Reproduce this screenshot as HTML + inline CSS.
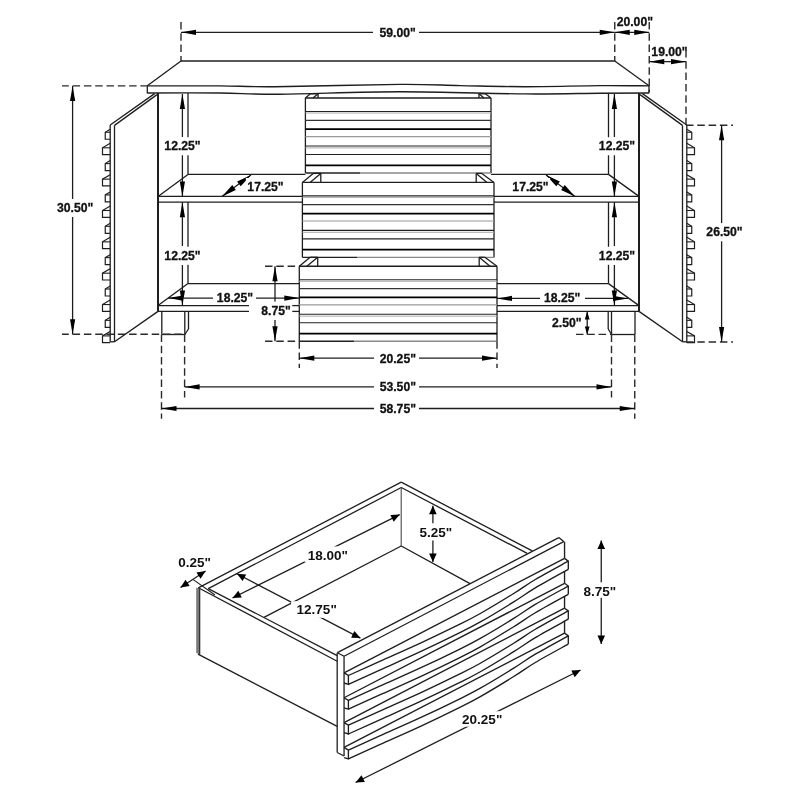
<!DOCTYPE html>
<html><head><meta charset="utf-8"><style>
html,body{margin:0;padding:0;background:#fff;}
svg{display:block;}
text{font-family:"Liberation Sans",sans-serif;font-weight:bold;fill:#111;stroke:#111;stroke-width:0.3;}
svg{will-change:transform;}
text.d{stroke-width:0;}
</style></head><body>
<svg width="800" height="800" viewBox="0 0 800 800">
<rect width="800" height="800" fill="#fff"/>
<line x1="181.00" y1="22.00" x2="181.00" y2="61.00" stroke="#2a2a2a" stroke-width="1.4" stroke-dasharray="7.5 3.8" stroke-dashoffset="0"/>
<line x1="181.00" y1="32.30" x2="373.00" y2="32.30" stroke="#1e1e1e" stroke-width="1.3"/>
<line x1="419.00" y1="32.30" x2="614.75" y2="32.30" stroke="#1e1e1e" stroke-width="1.3"/>
<polygon points="181.00,32.30 196.00,29.70 196.00,34.90" fill="#000"/>
<polygon points="614.75,32.30 599.75,34.90 599.75,29.70" fill="#000"/>
<line x1="614.75" y1="22.00" x2="614.75" y2="61.00" stroke="#2a2a2a" stroke-width="1.4" stroke-dasharray="7.5 3.8" stroke-dashoffset="0"/>
<line x1="649.25" y1="22.00" x2="649.25" y2="92.00" stroke="#2a2a2a" stroke-width="1.4" stroke-dasharray="7.5 3.8" stroke-dashoffset="0"/>
<line x1="614.75" y1="32.30" x2="649.25" y2="32.30" stroke="#1e1e1e" stroke-width="1.3"/>
<polygon points="614.75,32.30 629.75,29.70 629.75,34.90" fill="#000"/>
<polygon points="649.25,32.30 634.25,34.90 634.25,29.70" fill="#000"/>
<line x1="686.00" y1="50.00" x2="686.00" y2="125.00" stroke="#2a2a2a" stroke-width="1.4" stroke-dasharray="7.5 3.8" stroke-dashoffset="0"/>
<line x1="649.25" y1="61.70" x2="686.00" y2="61.70" stroke="#1e1e1e" stroke-width="1.3"/>
<polygon points="649.25,61.70 664.25,59.10 664.25,64.30" fill="#000"/>
<polygon points="686.00,61.70 671.00,64.30 671.00,59.10" fill="#000"/>
<line x1="181.00" y1="61.00" x2="614.75" y2="61.00" stroke="#1e1e1e" stroke-width="1.3"/>
<line x1="181.00" y1="61.00" x2="147.30" y2="85.80" stroke="#1e1e1e" stroke-width="1.3"/>
<line x1="614.75" y1="61.00" x2="649.00" y2="85.80" stroke="#1e1e1e" stroke-width="1.3"/>
<path d="M147.30,85.90 C159.42,85.90 198.72,85.77 220.00,85.90 C241.28,86.03 245.00,86.95 275.00,86.70 C305.00,86.45 369.17,84.58 400.00,84.40 C430.83,84.22 439.17,85.22 460.00,85.60 C480.83,85.98 501.67,86.70 525.00,86.70 C548.33,86.70 579.33,85.73 600.00,85.60 C620.67,85.47 640.83,85.85 649.00,85.90" fill="none" stroke="#1e1e1e" stroke-width="1.4"/>
<path d="M147.30,93.00 C159.42,93.00 197.88,92.80 220.00,93.00 C242.12,93.20 250.00,94.42 280.00,94.20 C310.00,93.98 359.17,91.75 400.00,91.70 C440.83,91.65 491.67,93.65 525.00,93.90 C558.33,94.15 579.33,93.35 600.00,93.20 C620.67,93.05 640.83,93.03 649.00,93.00" fill="none" stroke="#1e1e1e" stroke-width="1.4"/>
<line x1="147.30" y1="85.80" x2="147.30" y2="93.20" stroke="#1e1e1e" stroke-width="1.3"/>
<line x1="649.00" y1="86.00" x2="649.00" y2="93.20" stroke="#1e1e1e" stroke-width="1.3"/>
<line x1="158.00" y1="93.00" x2="158.00" y2="311.00" stroke="#1e1e1e" stroke-width="2.0"/>
<line x1="639.00" y1="93.00" x2="639.00" y2="311.00" stroke="#1e1e1e" stroke-width="2.0"/>
<line x1="188.00" y1="93.00" x2="188.00" y2="174.40" stroke="#1e1e1e" stroke-width="1.3"/>
<line x1="188.00" y1="202.00" x2="188.00" y2="283.60" stroke="#1e1e1e" stroke-width="1.3"/>
<line x1="608.50" y1="93.00" x2="608.50" y2="174.40" stroke="#1e1e1e" stroke-width="1.3"/>
<line x1="608.50" y1="202.00" x2="608.50" y2="283.60" stroke="#1e1e1e" stroke-width="1.3"/>
<line x1="188.00" y1="174.40" x2="305.40" y2="174.40" stroke="#1e1e1e" stroke-width="1.3"/>
<line x1="491.00" y1="174.40" x2="608.50" y2="174.40" stroke="#1e1e1e" stroke-width="1.3"/>
<line x1="158.00" y1="196.40" x2="188.00" y2="174.40" stroke="#1e1e1e" stroke-width="1.3"/>
<line x1="639.00" y1="196.40" x2="608.50" y2="174.40" stroke="#1e1e1e" stroke-width="1.3"/>
<line x1="158.00" y1="196.40" x2="302.40" y2="196.40" stroke="#1e1e1e" stroke-width="1.3"/>
<line x1="158.00" y1="202.20" x2="302.40" y2="202.20" stroke="#1e1e1e" stroke-width="1.3"/>
<line x1="494.00" y1="196.40" x2="639.00" y2="196.40" stroke="#1e1e1e" stroke-width="1.3"/>
<line x1="494.00" y1="202.20" x2="639.00" y2="202.20" stroke="#1e1e1e" stroke-width="1.3"/>
<line x1="188.00" y1="283.60" x2="299.30" y2="283.60" stroke="#1e1e1e" stroke-width="1.3"/>
<line x1="497.00" y1="283.60" x2="608.50" y2="283.60" stroke="#1e1e1e" stroke-width="1.3"/>
<line x1="158.00" y1="305.60" x2="188.00" y2="283.60" stroke="#1e1e1e" stroke-width="1.3"/>
<line x1="639.00" y1="305.60" x2="608.50" y2="283.60" stroke="#1e1e1e" stroke-width="1.3"/>
<line x1="158.00" y1="305.60" x2="249.00" y2="305.60" stroke="#1e1e1e" stroke-width="1.3"/>
<line x1="158.00" y1="311.40" x2="249.00" y2="311.40" stroke="#1e1e1e" stroke-width="1.3"/>
<line x1="292.00" y1="305.60" x2="299.30" y2="305.60" stroke="#1e1e1e" stroke-width="1.3"/>
<line x1="292.00" y1="311.40" x2="299.30" y2="311.40" stroke="#1e1e1e" stroke-width="1.3"/>
<line x1="497.00" y1="305.60" x2="639.00" y2="305.60" stroke="#1e1e1e" stroke-width="1.3"/>
<line x1="497.00" y1="311.40" x2="639.00" y2="311.40" stroke="#1e1e1e" stroke-width="1.3"/>
<line x1="161.80" y1="311.40" x2="161.80" y2="334.50" stroke="#1e1e1e" stroke-width="1.3"/>
<line x1="184.80" y1="311.40" x2="184.80" y2="334.50" stroke="#1e1e1e" stroke-width="1.3"/>
<line x1="188.50" y1="311.40" x2="188.50" y2="329.00" stroke="#1e1e1e" stroke-width="1.3"/>
<line x1="188.50" y1="329.00" x2="184.80" y2="334.50" stroke="#1e1e1e" stroke-width="1.3"/>
<line x1="161.80" y1="334.50" x2="184.80" y2="334.50" stroke="#1e1e1e" stroke-width="1.3"/>
<line x1="611.50" y1="311.40" x2="611.50" y2="334.50" stroke="#1e1e1e" stroke-width="1.3"/>
<line x1="608.20" y1="311.40" x2="608.20" y2="329.00" stroke="#1e1e1e" stroke-width="1.3"/>
<line x1="608.20" y1="329.00" x2="611.50" y2="334.50" stroke="#1e1e1e" stroke-width="1.3"/>
<line x1="635.00" y1="311.40" x2="635.00" y2="334.50" stroke="#1e1e1e" stroke-width="1.3"/>
<line x1="611.50" y1="334.50" x2="635.00" y2="334.50" stroke="#1e1e1e" stroke-width="1.3"/>
<line x1="305.40" y1="98.00" x2="305.40" y2="173.00" stroke="#1e1e1e" stroke-width="1.3"/>
<line x1="491.00" y1="98.00" x2="491.00" y2="173.00" stroke="#1e1e1e" stroke-width="1.3"/>
<line x1="305.40" y1="98.00" x2="491.00" y2="98.00" stroke="#1e1e1e" stroke-width="1.3"/>
<line x1="305.40" y1="111.50" x2="491.00" y2="111.50" stroke="#222" stroke-width="1.2"/>
<line x1="305.40" y1="113.00" x2="491.00" y2="113.00" stroke="#aaa" stroke-width="1.0"/>
<line x1="305.40" y1="120.30" x2="491.00" y2="120.30" stroke="#333" stroke-width="1.2"/>
<line x1="305.40" y1="129.20" x2="491.00" y2="129.20" stroke="#000" stroke-width="1.7"/>
<line x1="305.40" y1="136.60" x2="491.00" y2="136.60" stroke="#999" stroke-width="1.1"/>
<line x1="305.40" y1="146.00" x2="491.00" y2="146.00" stroke="#222" stroke-width="1.2"/>
<line x1="305.40" y1="147.90" x2="491.00" y2="147.90" stroke="#aaa" stroke-width="1.0"/>
<line x1="305.40" y1="154.50" x2="491.00" y2="154.50" stroke="#222" stroke-width="1.2"/>
<line x1="305.40" y1="165.30" x2="491.00" y2="165.30" stroke="#000" stroke-width="1.7"/>
<line x1="305.40" y1="173.00" x2="360.40" y2="173.00" stroke="#222" stroke-width="1.3"/>
<line x1="360.40" y1="173.00" x2="491.00" y2="173.00" stroke="#888" stroke-width="1.3"/>
<line x1="305.40" y1="98.00" x2="310.44" y2="93.80" stroke="#1e1e1e" stroke-width="1.3"/>
<line x1="313.00" y1="98.00" x2="318.04" y2="93.80" stroke="#1e1e1e" stroke-width="1.3"/>
<line x1="318.04" y1="93.80" x2="318.04" y2="98.00" stroke="#1e1e1e" stroke-width="1.3"/>
<line x1="310.44" y1="93.80" x2="318.04" y2="93.80" stroke="#1e1e1e" stroke-width="1.3"/>
<line x1="491.00" y1="98.00" x2="485.33" y2="93.80" stroke="#1e1e1e" stroke-width="1.3"/>
<line x1="484.00" y1="98.00" x2="478.96" y2="93.80" stroke="#1e1e1e" stroke-width="1.3"/>
<line x1="478.96" y1="93.80" x2="478.96" y2="98.00" stroke="#1e1e1e" stroke-width="1.3"/>
<line x1="478.96" y1="93.80" x2="485.33" y2="93.80" stroke="#1e1e1e" stroke-width="1.3"/>
<line x1="302.40" y1="182.40" x2="302.40" y2="257.40" stroke="#1e1e1e" stroke-width="1.3"/>
<line x1="494.00" y1="182.40" x2="494.00" y2="257.40" stroke="#1e1e1e" stroke-width="1.3"/>
<line x1="302.40" y1="182.40" x2="494.00" y2="182.40" stroke="#1e1e1e" stroke-width="1.3"/>
<line x1="302.40" y1="195.90" x2="494.00" y2="195.90" stroke="#222" stroke-width="1.2"/>
<line x1="302.40" y1="197.40" x2="494.00" y2="197.40" stroke="#aaa" stroke-width="1.0"/>
<line x1="302.40" y1="204.70" x2="494.00" y2="204.70" stroke="#333" stroke-width="1.2"/>
<line x1="302.40" y1="213.60" x2="494.00" y2="213.60" stroke="#000" stroke-width="1.7"/>
<line x1="302.40" y1="221.00" x2="494.00" y2="221.00" stroke="#999" stroke-width="1.1"/>
<line x1="302.40" y1="230.40" x2="494.00" y2="230.40" stroke="#222" stroke-width="1.2"/>
<line x1="302.40" y1="232.30" x2="494.00" y2="232.30" stroke="#aaa" stroke-width="1.0"/>
<line x1="302.40" y1="238.90" x2="494.00" y2="238.90" stroke="#222" stroke-width="1.2"/>
<line x1="302.40" y1="249.70" x2="494.00" y2="249.70" stroke="#000" stroke-width="1.7"/>
<line x1="302.40" y1="257.40" x2="357.40" y2="257.40" stroke="#222" stroke-width="1.3"/>
<line x1="357.40" y1="257.40" x2="494.00" y2="257.40" stroke="#888" stroke-width="1.3"/>
<line x1="302.40" y1="182.40" x2="313.20" y2="173.40" stroke="#1e1e1e" stroke-width="1.3"/>
<line x1="310.00" y1="182.40" x2="320.80" y2="173.40" stroke="#1e1e1e" stroke-width="1.3"/>
<line x1="320.80" y1="173.40" x2="320.80" y2="182.40" stroke="#1e1e1e" stroke-width="1.3"/>
<line x1="313.20" y1="173.40" x2="320.80" y2="173.40" stroke="#1e1e1e" stroke-width="1.3"/>
<line x1="494.00" y1="182.40" x2="481.85" y2="173.40" stroke="#1e1e1e" stroke-width="1.3"/>
<line x1="487.00" y1="182.40" x2="476.20" y2="173.40" stroke="#1e1e1e" stroke-width="1.3"/>
<line x1="476.20" y1="173.40" x2="476.20" y2="182.40" stroke="#1e1e1e" stroke-width="1.3"/>
<line x1="476.20" y1="173.40" x2="481.85" y2="173.40" stroke="#1e1e1e" stroke-width="1.3"/>
<line x1="299.30" y1="266.25" x2="299.30" y2="341.25" stroke="#1e1e1e" stroke-width="1.3"/>
<line x1="497.00" y1="266.25" x2="497.00" y2="341.25" stroke="#1e1e1e" stroke-width="1.3"/>
<line x1="299.30" y1="266.25" x2="497.00" y2="266.25" stroke="#1e1e1e" stroke-width="1.3"/>
<line x1="299.30" y1="279.75" x2="497.00" y2="279.75" stroke="#222" stroke-width="1.2"/>
<line x1="299.30" y1="281.25" x2="497.00" y2="281.25" stroke="#aaa" stroke-width="1.0"/>
<line x1="299.30" y1="288.55" x2="497.00" y2="288.55" stroke="#333" stroke-width="1.2"/>
<line x1="299.30" y1="297.45" x2="497.00" y2="297.45" stroke="#000" stroke-width="1.7"/>
<line x1="299.30" y1="304.85" x2="497.00" y2="304.85" stroke="#999" stroke-width="1.1"/>
<line x1="299.30" y1="314.25" x2="497.00" y2="314.25" stroke="#222" stroke-width="1.2"/>
<line x1="299.30" y1="316.15" x2="497.00" y2="316.15" stroke="#aaa" stroke-width="1.0"/>
<line x1="299.30" y1="322.75" x2="497.00" y2="322.75" stroke="#222" stroke-width="1.2"/>
<line x1="299.30" y1="333.55" x2="497.00" y2="333.55" stroke="#000" stroke-width="1.7"/>
<line x1="299.30" y1="341.25" x2="354.30" y2="341.25" stroke="#222" stroke-width="1.3"/>
<line x1="354.30" y1="341.25" x2="497.00" y2="341.25" stroke="#888" stroke-width="1.3"/>
<line x1="299.30" y1="266.25" x2="310.10" y2="257.25" stroke="#1e1e1e" stroke-width="1.3"/>
<line x1="306.90" y1="266.25" x2="317.70" y2="257.25" stroke="#1e1e1e" stroke-width="1.3"/>
<line x1="317.70" y1="257.25" x2="317.70" y2="266.25" stroke="#1e1e1e" stroke-width="1.3"/>
<line x1="310.10" y1="257.25" x2="317.70" y2="257.25" stroke="#1e1e1e" stroke-width="1.3"/>
<line x1="497.00" y1="266.25" x2="484.85" y2="257.25" stroke="#1e1e1e" stroke-width="1.3"/>
<line x1="490.00" y1="266.25" x2="479.20" y2="257.25" stroke="#1e1e1e" stroke-width="1.3"/>
<line x1="479.20" y1="257.25" x2="479.20" y2="266.25" stroke="#1e1e1e" stroke-width="1.3"/>
<line x1="479.20" y1="257.25" x2="484.85" y2="257.25" stroke="#1e1e1e" stroke-width="1.3"/>
<line x1="110.20" y1="125.00" x2="110.20" y2="341.80" stroke="#1e1e1e" stroke-width="1.3"/>
<line x1="114.50" y1="125.40" x2="114.50" y2="341.80" stroke="#1e1e1e" stroke-width="1.3"/>
<line x1="110.20" y1="125.00" x2="154.60" y2="93.60" stroke="#1e1e1e" stroke-width="1.3"/>
<line x1="114.50" y1="125.40" x2="157.00" y2="94.60" stroke="#1e1e1e" stroke-width="1.3"/>
<line x1="110.20" y1="341.80" x2="114.50" y2="341.80" stroke="#1e1e1e" stroke-width="1.3"/>
<line x1="114.50" y1="341.80" x2="158.00" y2="311.40" stroke="#1e1e1e" stroke-width="1.3"/>
<polyline points="110.20,129.25 105.25,132.25 105.25,139.25 110.20,139.25" fill="none" stroke="#1e1e1e" stroke-width="1.2" stroke-linejoin="miter"/>
<line x1="105.25" y1="132.25" x2="110.20" y2="132.25" stroke="#1e1e1e" stroke-width="1.1"/>
<polyline points="110.20,143.30 102.50,147.80 102.50,154.60 110.20,154.60" fill="none" stroke="#1e1e1e" stroke-width="1.2" stroke-linejoin="miter"/>
<line x1="102.50" y1="147.80" x2="110.20" y2="147.80" stroke="#1e1e1e" stroke-width="1.1"/>
<polyline points="110.20,160.60 105.25,163.60 105.25,170.60 110.20,170.60" fill="none" stroke="#1e1e1e" stroke-width="1.2" stroke-linejoin="miter"/>
<line x1="105.25" y1="163.60" x2="110.20" y2="163.60" stroke="#1e1e1e" stroke-width="1.1"/>
<polyline points="110.20,174.65 102.50,179.15 102.50,185.95 110.20,185.95" fill="none" stroke="#1e1e1e" stroke-width="1.2" stroke-linejoin="miter"/>
<line x1="102.50" y1="179.15" x2="110.20" y2="179.15" stroke="#1e1e1e" stroke-width="1.1"/>
<polyline points="110.20,191.95 105.25,194.95 105.25,201.95 110.20,201.95" fill="none" stroke="#1e1e1e" stroke-width="1.2" stroke-linejoin="miter"/>
<line x1="105.25" y1="194.95" x2="110.20" y2="194.95" stroke="#1e1e1e" stroke-width="1.1"/>
<polyline points="110.20,206.00 102.50,210.50 102.50,217.30 110.20,217.30" fill="none" stroke="#1e1e1e" stroke-width="1.2" stroke-linejoin="miter"/>
<line x1="102.50" y1="210.50" x2="110.20" y2="210.50" stroke="#1e1e1e" stroke-width="1.1"/>
<polyline points="110.20,223.30 105.25,226.30 105.25,233.30 110.20,233.30" fill="none" stroke="#1e1e1e" stroke-width="1.2" stroke-linejoin="miter"/>
<line x1="105.25" y1="226.30" x2="110.20" y2="226.30" stroke="#1e1e1e" stroke-width="1.1"/>
<polyline points="110.20,237.35 102.50,241.85 102.50,248.65 110.20,248.65" fill="none" stroke="#1e1e1e" stroke-width="1.2" stroke-linejoin="miter"/>
<line x1="102.50" y1="241.85" x2="110.20" y2="241.85" stroke="#1e1e1e" stroke-width="1.1"/>
<polyline points="110.20,254.65 105.25,257.65 105.25,264.65 110.20,264.65" fill="none" stroke="#1e1e1e" stroke-width="1.2" stroke-linejoin="miter"/>
<line x1="105.25" y1="257.65" x2="110.20" y2="257.65" stroke="#1e1e1e" stroke-width="1.1"/>
<polyline points="110.20,268.70 102.50,273.20 102.50,280.00 110.20,280.00" fill="none" stroke="#1e1e1e" stroke-width="1.2" stroke-linejoin="miter"/>
<line x1="102.50" y1="273.20" x2="110.20" y2="273.20" stroke="#1e1e1e" stroke-width="1.1"/>
<polyline points="110.20,286.00 105.25,289.00 105.25,296.00 110.20,296.00" fill="none" stroke="#1e1e1e" stroke-width="1.2" stroke-linejoin="miter"/>
<line x1="105.25" y1="289.00" x2="110.20" y2="289.00" stroke="#1e1e1e" stroke-width="1.1"/>
<polyline points="110.20,300.05 102.50,304.55 102.50,311.35 110.20,311.35" fill="none" stroke="#1e1e1e" stroke-width="1.2" stroke-linejoin="miter"/>
<line x1="102.50" y1="304.55" x2="110.20" y2="304.55" stroke="#1e1e1e" stroke-width="1.1"/>
<polyline points="110.20,317.35 105.25,320.35 105.25,327.35 110.20,327.35" fill="none" stroke="#1e1e1e" stroke-width="1.2" stroke-linejoin="miter"/>
<line x1="105.25" y1="320.35" x2="110.20" y2="320.35" stroke="#1e1e1e" stroke-width="1.1"/>
<polyline points="110.20,331.40 102.50,335.90 102.50,342.70 110.20,342.70" fill="none" stroke="#1e1e1e" stroke-width="1.2" stroke-linejoin="miter"/>
<line x1="102.50" y1="335.90" x2="110.20" y2="335.90" stroke="#1e1e1e" stroke-width="1.1"/>
<line x1="686.80" y1="125.00" x2="686.80" y2="341.80" stroke="#1e1e1e" stroke-width="1.3"/>
<line x1="682.50" y1="125.40" x2="682.50" y2="341.80" stroke="#1e1e1e" stroke-width="1.3"/>
<line x1="686.80" y1="125.00" x2="642.40" y2="93.60" stroke="#1e1e1e" stroke-width="1.3"/>
<line x1="682.50" y1="125.40" x2="640.00" y2="94.60" stroke="#1e1e1e" stroke-width="1.3"/>
<line x1="686.80" y1="341.80" x2="682.50" y2="341.80" stroke="#1e1e1e" stroke-width="1.3"/>
<line x1="682.50" y1="341.80" x2="639.00" y2="311.40" stroke="#1e1e1e" stroke-width="1.3"/>
<polyline points="686.80,129.25 691.75,132.25 691.75,139.25 686.80,139.25" fill="none" stroke="#1e1e1e" stroke-width="1.2" stroke-linejoin="miter"/>
<line x1="691.75" y1="132.25" x2="686.80" y2="132.25" stroke="#1e1e1e" stroke-width="1.1"/>
<polyline points="686.80,143.30 694.50,147.80 694.50,154.60 686.80,154.60" fill="none" stroke="#1e1e1e" stroke-width="1.2" stroke-linejoin="miter"/>
<line x1="694.50" y1="147.80" x2="686.80" y2="147.80" stroke="#1e1e1e" stroke-width="1.1"/>
<polyline points="686.80,160.60 691.75,163.60 691.75,170.60 686.80,170.60" fill="none" stroke="#1e1e1e" stroke-width="1.2" stroke-linejoin="miter"/>
<line x1="691.75" y1="163.60" x2="686.80" y2="163.60" stroke="#1e1e1e" stroke-width="1.1"/>
<polyline points="686.80,174.65 694.50,179.15 694.50,185.95 686.80,185.95" fill="none" stroke="#1e1e1e" stroke-width="1.2" stroke-linejoin="miter"/>
<line x1="694.50" y1="179.15" x2="686.80" y2="179.15" stroke="#1e1e1e" stroke-width="1.1"/>
<polyline points="686.80,191.95 691.75,194.95 691.75,201.95 686.80,201.95" fill="none" stroke="#1e1e1e" stroke-width="1.2" stroke-linejoin="miter"/>
<line x1="691.75" y1="194.95" x2="686.80" y2="194.95" stroke="#1e1e1e" stroke-width="1.1"/>
<polyline points="686.80,206.00 694.50,210.50 694.50,217.30 686.80,217.30" fill="none" stroke="#1e1e1e" stroke-width="1.2" stroke-linejoin="miter"/>
<line x1="694.50" y1="210.50" x2="686.80" y2="210.50" stroke="#1e1e1e" stroke-width="1.1"/>
<polyline points="686.80,223.30 691.75,226.30 691.75,233.30 686.80,233.30" fill="none" stroke="#1e1e1e" stroke-width="1.2" stroke-linejoin="miter"/>
<line x1="691.75" y1="226.30" x2="686.80" y2="226.30" stroke="#1e1e1e" stroke-width="1.1"/>
<polyline points="686.80,237.35 694.50,241.85 694.50,248.65 686.80,248.65" fill="none" stroke="#1e1e1e" stroke-width="1.2" stroke-linejoin="miter"/>
<line x1="694.50" y1="241.85" x2="686.80" y2="241.85" stroke="#1e1e1e" stroke-width="1.1"/>
<polyline points="686.80,254.65 691.75,257.65 691.75,264.65 686.80,264.65" fill="none" stroke="#1e1e1e" stroke-width="1.2" stroke-linejoin="miter"/>
<line x1="691.75" y1="257.65" x2="686.80" y2="257.65" stroke="#1e1e1e" stroke-width="1.1"/>
<polyline points="686.80,268.70 694.50,273.20 694.50,280.00 686.80,280.00" fill="none" stroke="#1e1e1e" stroke-width="1.2" stroke-linejoin="miter"/>
<line x1="694.50" y1="273.20" x2="686.80" y2="273.20" stroke="#1e1e1e" stroke-width="1.1"/>
<polyline points="686.80,286.00 691.75,289.00 691.75,296.00 686.80,296.00" fill="none" stroke="#1e1e1e" stroke-width="1.2" stroke-linejoin="miter"/>
<line x1="691.75" y1="289.00" x2="686.80" y2="289.00" stroke="#1e1e1e" stroke-width="1.1"/>
<polyline points="686.80,300.05 694.50,304.55 694.50,311.35 686.80,311.35" fill="none" stroke="#1e1e1e" stroke-width="1.2" stroke-linejoin="miter"/>
<line x1="694.50" y1="304.55" x2="686.80" y2="304.55" stroke="#1e1e1e" stroke-width="1.1"/>
<polyline points="686.80,317.35 691.75,320.35 691.75,327.35 686.80,327.35" fill="none" stroke="#1e1e1e" stroke-width="1.2" stroke-linejoin="miter"/>
<line x1="691.75" y1="320.35" x2="686.80" y2="320.35" stroke="#1e1e1e" stroke-width="1.1"/>
<polyline points="686.80,331.40 694.50,335.90 694.50,342.70 686.80,342.70" fill="none" stroke="#1e1e1e" stroke-width="1.2" stroke-linejoin="miter"/>
<line x1="694.50" y1="335.90" x2="686.80" y2="335.90" stroke="#1e1e1e" stroke-width="1.1"/>
<line x1="62.00" y1="85.90" x2="147.30" y2="85.90" stroke="#2a2a2a" stroke-width="1.4" stroke-dasharray="7.5 3.8" stroke-dashoffset="0.7"/>
<line x1="72.60" y1="86.00" x2="72.60" y2="199.50" stroke="#1e1e1e" stroke-width="1.3"/>
<line x1="72.60" y1="217.00" x2="72.60" y2="334.30" stroke="#1e1e1e" stroke-width="1.3"/>
<polygon points="72.60,86.00 75.20,101.00 70.00,101.00" fill="#000"/>
<polygon points="72.60,334.30 70.00,319.30 75.20,319.30" fill="#000"/>
<line x1="62.00" y1="334.30" x2="186.00" y2="334.30" stroke="#2a2a2a" stroke-width="1.4" stroke-dasharray="7.5 3.8" stroke-dashoffset="0.7"/>
<line x1="686.00" y1="125.20" x2="733.00" y2="125.20" stroke="#2a2a2a" stroke-width="1.4" stroke-dasharray="7.5 3.8" stroke-dashoffset="0"/>
<line x1="721.60" y1="125.20" x2="721.60" y2="223.30" stroke="#1e1e1e" stroke-width="1.3"/>
<line x1="721.60" y1="241.00" x2="721.60" y2="342.00" stroke="#1e1e1e" stroke-width="1.3"/>
<polygon points="721.60,125.20 724.20,140.20 719.00,140.20" fill="#000"/>
<polygon points="721.60,342.00 719.00,327.00 724.20,327.00" fill="#000"/>
<line x1="686.00" y1="342.00" x2="733.00" y2="342.00" stroke="#2a2a2a" stroke-width="1.4" stroke-dasharray="7.5 3.8" stroke-dashoffset="0"/>
<line x1="182.40" y1="94.00" x2="182.40" y2="137.00" stroke="#1e1e1e" stroke-width="1.3"/>
<line x1="182.40" y1="155.00" x2="182.40" y2="196.40" stroke="#1e1e1e" stroke-width="1.3"/>
<polygon points="182.40,94.00 185.00,109.00 179.80,109.00" fill="#000"/>
<polygon points="182.40,196.40 179.80,181.40 185.00,181.40" fill="#000"/>
<line x1="182.40" y1="202.20" x2="182.40" y2="246.00" stroke="#1e1e1e" stroke-width="1.3"/>
<line x1="182.40" y1="265.00" x2="182.40" y2="305.60" stroke="#1e1e1e" stroke-width="1.3"/>
<polygon points="182.40,202.20 185.00,217.20 179.80,217.20" fill="#000"/>
<polygon points="182.40,305.60 179.80,290.60 185.00,290.60" fill="#000"/>
<line x1="614.40" y1="94.00" x2="614.40" y2="137.00" stroke="#1e1e1e" stroke-width="1.3"/>
<line x1="614.40" y1="155.00" x2="614.40" y2="196.40" stroke="#1e1e1e" stroke-width="1.3"/>
<polygon points="614.40,94.00 617.00,109.00 611.80,109.00" fill="#000"/>
<polygon points="614.40,196.40 611.80,181.40 617.00,181.40" fill="#000"/>
<line x1="614.40" y1="202.20" x2="614.40" y2="246.00" stroke="#1e1e1e" stroke-width="1.3"/>
<line x1="614.40" y1="265.00" x2="614.40" y2="305.60" stroke="#1e1e1e" stroke-width="1.3"/>
<polygon points="614.40,202.20 617.00,217.20 611.80,217.20" fill="#000"/>
<polygon points="614.40,305.60 611.80,290.60 617.00,290.60" fill="#000"/>
<line x1="222.00" y1="196.40" x2="251.00" y2="175.00" stroke="#1e1e1e" stroke-width="1.3"/>
<polygon points="222.00,196.40 232.29,185.08 235.85,189.91" fill="#000"/>
<polygon points="251.00,175.00 240.71,186.32 237.15,181.49" fill="#000"/>
<line x1="575.00" y1="196.40" x2="546.00" y2="175.00" stroke="#1e1e1e" stroke-width="1.3"/>
<polygon points="575.00,196.40 561.15,189.91 564.71,185.08" fill="#000"/>
<polygon points="546.00,175.00 559.85,181.49 556.29,186.32" fill="#000"/>
<line x1="168.00" y1="298.10" x2="213.00" y2="298.10" stroke="#1e1e1e" stroke-width="1.3"/>
<line x1="256.00" y1="298.10" x2="299.30" y2="298.10" stroke="#1e1e1e" stroke-width="1.3"/>
<polygon points="168.00,298.10 183.00,295.50 183.00,300.70" fill="#000"/>
<polygon points="299.30,298.10 284.30,300.70 284.30,295.50" fill="#000"/>
<line x1="497.00" y1="298.40" x2="540.00" y2="298.40" stroke="#1e1e1e" stroke-width="1.3"/>
<line x1="585.00" y1="298.40" x2="628.00" y2="298.40" stroke="#1e1e1e" stroke-width="1.3"/>
<polygon points="497.00,298.40 512.00,295.80 512.00,301.00" fill="#000"/>
<polygon points="628.00,298.40 613.00,301.00 613.00,295.80" fill="#000"/>
<line x1="265.00" y1="266.25" x2="299.30" y2="266.25" stroke="#2a2a2a" stroke-width="1.4" stroke-dasharray="7.5 3.8" stroke-dashoffset="0"/>
<line x1="265.00" y1="341.25" x2="299.30" y2="341.25" stroke="#2a2a2a" stroke-width="1.4" stroke-dasharray="7.5 3.8" stroke-dashoffset="0"/>
<line x1="275.00" y1="266.25" x2="275.00" y2="303.00" stroke="#1e1e1e" stroke-width="1.3"/>
<line x1="275.00" y1="320.00" x2="275.00" y2="341.25" stroke="#1e1e1e" stroke-width="1.3"/>
<polygon points="275.00,266.25 277.60,281.25 272.40,281.25" fill="#000"/>
<polygon points="275.00,341.25 272.40,326.25 277.60,326.25" fill="#000"/>
<line x1="576.00" y1="334.40" x2="611.50" y2="334.40" stroke="#2a2a2a" stroke-width="1.4" stroke-dasharray="7.5 3.8" stroke-dashoffset="0"/>
<line x1="587.20" y1="311.40" x2="587.20" y2="334.40" stroke="#1e1e1e" stroke-width="1.3"/>
<polygon points="587.20,311.40 589.60,319.40 584.80,319.40" fill="#000"/>
<polygon points="587.20,334.40 584.80,326.40 589.60,326.40" fill="#000"/>
<line x1="299.30" y1="341.25" x2="299.30" y2="368.00" stroke="#2a2a2a" stroke-width="1.4" stroke-dasharray="7.5 3.8" stroke-dashoffset="0"/>
<line x1="497.00" y1="341.25" x2="497.00" y2="368.00" stroke="#2a2a2a" stroke-width="1.4" stroke-dasharray="7.5 3.8" stroke-dashoffset="0"/>
<line x1="299.30" y1="358.20" x2="374.00" y2="358.20" stroke="#1e1e1e" stroke-width="1.3"/>
<line x1="419.00" y1="358.20" x2="497.00" y2="358.20" stroke="#1e1e1e" stroke-width="1.3"/>
<polygon points="299.30,358.20 314.30,355.60 314.30,360.80" fill="#000"/>
<polygon points="497.00,358.20 482.00,360.80 482.00,355.60" fill="#000"/>
<line x1="184.60" y1="334.40" x2="184.60" y2="397.50" stroke="#2a2a2a" stroke-width="1.4" stroke-dasharray="7.5 3.8" stroke-dashoffset="0"/>
<line x1="611.50" y1="334.40" x2="611.50" y2="397.50" stroke="#2a2a2a" stroke-width="1.4" stroke-dasharray="7.5 3.8" stroke-dashoffset="0"/>
<line x1="184.60" y1="386.90" x2="374.00" y2="386.90" stroke="#1e1e1e" stroke-width="1.3"/>
<line x1="419.00" y1="386.90" x2="611.50" y2="386.90" stroke="#1e1e1e" stroke-width="1.3"/>
<polygon points="184.60,386.90 199.60,384.30 199.60,389.50" fill="#000"/>
<polygon points="611.50,386.90 596.50,389.50 596.50,384.30" fill="#000"/>
<line x1="161.50" y1="334.40" x2="161.50" y2="418.80" stroke="#2a2a2a" stroke-width="1.4" stroke-dasharray="7.5 3.8" stroke-dashoffset="0"/>
<line x1="634.75" y1="334.40" x2="634.75" y2="418.80" stroke="#2a2a2a" stroke-width="1.4" stroke-dasharray="7.5 3.8" stroke-dashoffset="0"/>
<line x1="161.50" y1="408.50" x2="374.00" y2="408.50" stroke="#1e1e1e" stroke-width="1.3"/>
<line x1="419.00" y1="408.50" x2="634.75" y2="408.50" stroke="#1e1e1e" stroke-width="1.3"/>
<polygon points="161.50,408.50 176.50,405.90 176.50,411.10" fill="#000"/>
<polygon points="634.75,408.50 619.75,411.10 619.75,405.90" fill="#000"/>
<polygon points="196.2,587.6 200.2,589.2 200.2,654.5 196.2,653.0" fill="#7a7a7a"/>
<line x1="199.60" y1="589.20" x2="199.60" y2="654.50" stroke="#333" stroke-width="1.2"/>
<line x1="198.00" y1="654.20" x2="337.20" y2="726.40" stroke="#1e1e1e" stroke-width="1.3"/>
<line x1="198.30" y1="587.80" x2="337.20" y2="661.30" stroke="#1e1e1e" stroke-width="1.3"/>
<line x1="208.25" y1="588.60" x2="337.20" y2="655.60" stroke="#1e1e1e" stroke-width="1.3"/>
<line x1="198.30" y1="587.80" x2="401.25" y2="482.20" stroke="#1e1e1e" stroke-width="1.3"/>
<line x1="208.25" y1="588.60" x2="401.25" y2="487.50" stroke="#1e1e1e" stroke-width="1.3"/>
<line x1="401.25" y1="487.50" x2="401.25" y2="546.00" stroke="#707070" stroke-width="1.4"/>
<line x1="401.25" y1="546.00" x2="264.00" y2="617.30" stroke="#1e1e1e" stroke-width="1.3"/>
<line x1="401.25" y1="546.00" x2="470.00" y2="583.60" stroke="#1e1e1e" stroke-width="1.3"/>
<line x1="401.25" y1="482.20" x2="532.20" y2="550.90" stroke="#1e1e1e" stroke-width="1.3"/>
<line x1="401.25" y1="487.50" x2="527.20" y2="553.40" stroke="#1e1e1e" stroke-width="1.3"/>
<line x1="337.40" y1="652.70" x2="558.80" y2="537.60" stroke="#1e1e1e" stroke-width="1.3"/>
<line x1="344.06" y1="656.25" x2="563.70" y2="541.60" stroke="#1e1e1e" stroke-width="1.3"/>
<line x1="558.80" y1="537.60" x2="563.70" y2="541.60" stroke="#1e1e1e" stroke-width="1.3"/>
<line x1="337.40" y1="652.70" x2="344.06" y2="656.25" stroke="#1e1e1e" stroke-width="1.3"/>
<line x1="337.20" y1="652.70" x2="337.20" y2="752.50" stroke="#1e1e1e" stroke-width="1.3"/>
<line x1="344.06" y1="656.25" x2="344.06" y2="756.00" stroke="#1e1e1e" stroke-width="1.3"/>
<line x1="337.20" y1="752.50" x2="344.06" y2="756.00" stroke="#1e1e1e" stroke-width="1.3"/>
<line x1="564.55" y1="541.60" x2="564.55" y2="558.40" stroke="#1e1e1e" stroke-width="1.35"/>
<line x1="564.55" y1="571.40" x2="564.55" y2="583.30" stroke="#1e1e1e" stroke-width="1.35"/>
<line x1="564.55" y1="596.30" x2="564.55" y2="608.20" stroke="#1e1e1e" stroke-width="1.35"/>
<line x1="564.55" y1="621.20" x2="564.55" y2="633.10" stroke="#1e1e1e" stroke-width="1.35"/>
<polyline points="344.06,672.90 348.40,675.50 348.40,684.30 344.06,683.00" fill="none" stroke="#1e1e1e" stroke-width="1.35" stroke-linejoin="miter"/>
<polyline points="564.55,558.40 568.30,561.15 568.30,569.40" fill="none" stroke="#1e1e1e" stroke-width="1.35" stroke-linejoin="miter"/>
<line x1="344.06" y1="672.90" x2="564.55" y2="558.40" stroke="#1e1e1e" stroke-width="1.35"/>
<path d="M348.40,675.50 C353.71,673.10 368.19,666.56 380.29,661.12 C392.38,655.68 407.96,648.90 420.97,642.86 C433.98,636.83 448.45,629.82 458.35,624.93 C468.25,620.03 471.18,618.69 480.34,613.49 C489.50,608.29 504.16,599.40 513.32,593.74 C522.49,588.07 526.15,584.93 535.31,579.50 C544.48,574.07 562.80,564.21 568.30,561.15" fill="none" stroke="#1e1e1e" stroke-width="1.35"/>
<path d="M348.40,684.30 C353.71,681.89 368.19,675.31 380.29,669.84 C392.38,664.37 407.96,657.55 420.97,651.48 C433.98,645.42 448.45,638.37 458.35,633.45 C468.25,628.53 471.18,627.18 480.34,621.96 C489.50,616.74 504.16,607.81 513.32,602.12 C522.49,596.44 526.15,593.29 535.31,587.84 C544.48,582.38 562.80,572.47 568.30,569.40" fill="none" stroke="#1e1e1e" stroke-width="1.35"/>
<polyline points="344.06,697.75 348.40,700.35 348.40,709.15 344.06,707.85" fill="none" stroke="#1e1e1e" stroke-width="1.35" stroke-linejoin="miter"/>
<polyline points="564.55,583.30 568.30,586.05 568.30,594.30" fill="none" stroke="#1e1e1e" stroke-width="1.35" stroke-linejoin="miter"/>
<line x1="344.06" y1="697.75" x2="564.55" y2="583.30" stroke="#1e1e1e" stroke-width="1.35"/>
<path d="M348.40,700.35 C353.71,697.95 368.19,691.41 380.29,685.98 C392.38,680.54 407.96,673.76 420.97,667.73 C433.98,661.70 448.45,654.69 458.35,649.80 C468.25,644.91 471.18,643.57 480.34,638.37 C489.50,633.17 504.16,624.29 513.32,618.62 C522.49,612.96 526.15,609.82 535.31,604.39 C544.48,598.97 562.80,589.11 568.30,586.05" fill="none" stroke="#1e1e1e" stroke-width="1.35"/>
<path d="M348.40,709.15 C353.71,706.74 368.19,700.16 380.29,694.70 C392.38,689.23 407.96,682.41 420.97,676.35 C433.98,670.29 448.45,663.24 458.35,658.32 C468.25,653.41 471.18,652.06 480.34,646.84 C489.50,641.62 504.16,632.70 513.32,627.01 C522.49,621.33 526.15,618.18 535.31,612.73 C544.48,607.28 562.80,597.37 568.30,594.30" fill="none" stroke="#1e1e1e" stroke-width="1.35"/>
<polyline points="344.06,722.60 348.40,725.20 348.40,734.00 344.06,732.70" fill="none" stroke="#1e1e1e" stroke-width="1.35" stroke-linejoin="miter"/>
<polyline points="564.55,608.20 568.30,610.95 568.30,619.20" fill="none" stroke="#1e1e1e" stroke-width="1.35" stroke-linejoin="miter"/>
<line x1="344.06" y1="722.60" x2="564.55" y2="608.20" stroke="#1e1e1e" stroke-width="1.35"/>
<path d="M348.40,725.20 C353.71,722.81 368.19,716.27 380.29,710.83 C392.38,705.40 407.96,698.62 420.97,692.60 C433.98,686.57 448.45,679.57 458.35,674.68 C468.25,669.78 471.18,668.44 480.34,663.25 C489.50,658.06 504.16,649.17 513.32,643.51 C522.49,637.85 526.15,634.71 535.31,629.29 C544.48,623.86 562.80,614.01 568.30,610.95" fill="none" stroke="#1e1e1e" stroke-width="1.35"/>
<path d="M348.40,734.00 C353.71,731.59 368.19,725.02 380.29,719.55 C392.38,714.09 407.96,707.28 420.97,701.22 C433.98,695.16 448.45,688.12 458.35,683.20 C468.25,678.28 471.18,676.94 480.34,671.72 C489.50,666.50 504.16,657.58 513.32,651.90 C522.49,646.22 526.15,643.07 535.31,637.62 C544.48,632.17 562.80,622.27 568.30,619.20" fill="none" stroke="#1e1e1e" stroke-width="1.35"/>
<polyline points="344.06,747.45 348.40,750.05 348.40,758.85 344.06,757.55" fill="none" stroke="#1e1e1e" stroke-width="1.35" stroke-linejoin="miter"/>
<polyline points="564.55,633.10 568.30,635.85 568.30,644.10" fill="none" stroke="#1e1e1e" stroke-width="1.35" stroke-linejoin="miter"/>
<line x1="344.06" y1="747.45" x2="564.55" y2="633.10" stroke="#1e1e1e" stroke-width="1.35"/>
<path d="M348.40,750.05 C353.71,747.66 368.19,741.12 380.29,735.69 C392.38,730.26 407.96,723.49 420.97,717.46 C433.98,711.44 448.45,704.44 458.35,699.55 C468.25,694.66 471.18,693.32 480.34,688.13 C489.50,682.94 504.16,674.06 513.32,668.40 C522.49,662.74 526.15,659.61 535.31,654.18 C544.48,648.75 562.80,638.90 568.30,635.85" fill="none" stroke="#1e1e1e" stroke-width="1.35"/>
<path d="M348.40,758.85 C353.71,756.44 368.19,749.87 380.29,744.41 C392.38,738.95 407.96,732.14 420.97,726.08 C433.98,720.03 448.45,712.99 458.35,708.07 C468.25,703.16 471.18,701.81 480.34,696.60 C489.50,691.39 504.16,682.47 513.32,676.79 C522.49,671.11 526.15,667.96 535.31,662.51 C544.48,657.06 562.80,647.17 568.30,644.10" fill="none" stroke="#1e1e1e" stroke-width="1.35"/>
<line x1="180.50" y1="587.50" x2="205.60" y2="571.00" stroke="#1e1e1e" stroke-width="1.3"/>
<polygon points="180.50,587.50 185.52,579.66 189.69,586.01" fill="#000"/>
<polygon points="205.60,571.00 200.58,578.84 196.41,572.49" fill="#000"/>
<line x1="193.25" y1="579.60" x2="215.00" y2="595.00" stroke="#1e1e1e" stroke-width="1.1"/>
<line x1="232.50" y1="598.00" x2="399.70" y2="514.60" stroke="#1e1e1e" stroke-width="1.3"/>
<polygon points="232.50,598.00 238.34,590.75 241.80,597.52" fill="#000"/>
<polygon points="399.70,514.60 393.71,521.73 390.39,514.89" fill="#000"/>
<line x1="236.90" y1="573.75" x2="360.40" y2="638.10" stroke="#1e1e1e" stroke-width="1.3"/>
<polygon points="236.90,573.75 246.19,574.41 242.60,581.11" fill="#000"/>
<polygon points="360.40,638.10 351.10,637.75 354.46,630.93" fill="#000"/>
<line x1="432.90" y1="505.70" x2="432.90" y2="562.10" stroke="#1e1e1e" stroke-width="1.3"/>
<polygon points="432.90,505.70 436.70,514.20 429.10,514.20" fill="#000"/>
<polygon points="432.90,562.10 429.10,553.60 436.70,553.60" fill="#000"/>
<line x1="601.25" y1="540.50" x2="601.25" y2="644.00" stroke="#1e1e1e" stroke-width="1.3"/>
<polygon points="601.25,540.50 605.05,549.00 597.45,549.00" fill="#000"/>
<polygon points="601.25,644.00 597.45,635.50 605.05,635.50" fill="#000"/>
<line x1="355.60" y1="782.50" x2="580.60" y2="670.00" stroke="#1e1e1e" stroke-width="1.3"/>
<polygon points="355.60,782.50 361.51,775.31 364.90,782.11" fill="#000"/>
<polygon points="580.60,670.00 574.71,677.21 571.30,670.42" fill="#000"/>
<rect x="378.05" y="23.56" width="39.31" height="18.04" fill="#fff"/>
<text x="397.70" y="36.60" text-anchor="middle" font-size="12.2">59.00&quot;</text>
<text x="634.80" y="25.60" text-anchor="middle" font-size="12.2">20.00&quot;</text>
<text x="669.50" y="56.20" text-anchor="middle" font-size="12.2">19.00&quot;</text>
<rect x="55.45" y="198.96" width="39.31" height="18.04" fill="#fff"/>
<text x="75.10" y="212.00" text-anchor="middle" font-size="12.2">30.50&quot;</text>
<rect x="704.85" y="223.26" width="39.31" height="18.04" fill="#fff"/>
<text x="724.50" y="236.30" text-anchor="middle" font-size="12.2">26.50&quot;</text>
<rect x="162.85" y="137.26" width="39.31" height="18.04" fill="#fff"/>
<text x="182.50" y="150.30" text-anchor="middle" font-size="12.2">12.25&quot;</text>
<rect x="162.85" y="246.76" width="39.31" height="18.04" fill="#fff"/>
<text x="182.50" y="259.80" text-anchor="middle" font-size="12.2">12.25&quot;</text>
<rect x="597.35" y="137.26" width="39.31" height="18.04" fill="#fff"/>
<text x="617.00" y="150.30" text-anchor="middle" font-size="12.2">12.25&quot;</text>
<rect x="597.35" y="246.76" width="39.31" height="18.04" fill="#fff"/>
<text x="617.00" y="259.80" text-anchor="middle" font-size="12.2">12.25&quot;</text>
<rect x="245.85" y="177.96" width="39.31" height="15.04" fill="#fff"/>
<text x="265.50" y="191.00" text-anchor="middle" font-size="12.2">17.25&quot;</text>
<rect x="510.85" y="177.96" width="39.31" height="15.04" fill="#fff"/>
<text x="530.50" y="191.00" text-anchor="middle" font-size="12.2">17.25&quot;</text>
<rect x="215.35" y="289.26" width="39.31" height="15.54" fill="#fff"/>
<text x="235.00" y="302.30" text-anchor="middle" font-size="12.2">18.25&quot;</text>
<rect x="542.55" y="288.46" width="39.31" height="15.54" fill="#fff"/>
<text x="562.20" y="301.50" text-anchor="middle" font-size="12.2">18.25&quot;</text>
<rect x="259.74" y="301.56" width="32.52" height="18.04" fill="#fff"/>
<text x="276.00" y="314.60" text-anchor="middle" font-size="12.2">8.75&quot;</text>
<rect x="550.54" y="313.56" width="32.52" height="18.04" fill="#fff"/>
<text x="566.80" y="326.60" text-anchor="middle" font-size="12.2">2.50&quot;</text>
<rect x="378.15" y="349.46" width="39.31" height="18.04" fill="#fff"/>
<text x="397.80" y="362.50" text-anchor="middle" font-size="12.2">20.25&quot;</text>
<rect x="378.15" y="378.16" width="39.31" height="18.04" fill="#fff"/>
<text x="397.80" y="391.20" text-anchor="middle" font-size="12.2">53.50&quot;</text>
<rect x="378.15" y="399.76" width="39.31" height="18.04" fill="#fff"/>
<text x="397.80" y="412.80" text-anchor="middle" font-size="12.2">58.75&quot;</text>
<text class="d" x="194.60" y="567.00" text-anchor="middle" font-size="13.5">0.25&quot;</text>
<rect x="304.71" y="546.43" width="46.18" height="16.07" fill="#fff"/>
<text class="d" x="327.80" y="559.90" text-anchor="middle" font-size="13.5">18.00&quot;</text>
<rect x="291.11" y="601.23" width="51.18" height="16.57" fill="#fff"/>
<text class="d" x="316.70" y="614.00" text-anchor="middle" font-size="13.5">12.75&quot;</text>
<rect x="418.47" y="523.23" width="34.67" height="17.27" fill="#fff"/>
<text class="d" x="435.80" y="536.90" text-anchor="middle" font-size="13.5">5.25&quot;</text>
<rect x="582.41" y="582.33" width="34.67" height="15.47" fill="#fff"/>
<text class="d" x="599.75" y="596.00" text-anchor="middle" font-size="13.5">8.75&quot;</text>
<rect x="459.11" y="711.23" width="46.18" height="15.47" fill="#fff"/>
<text class="d" x="482.20" y="723.50" text-anchor="middle" font-size="13.5">20.25&quot;</text>
</svg></body></html>
